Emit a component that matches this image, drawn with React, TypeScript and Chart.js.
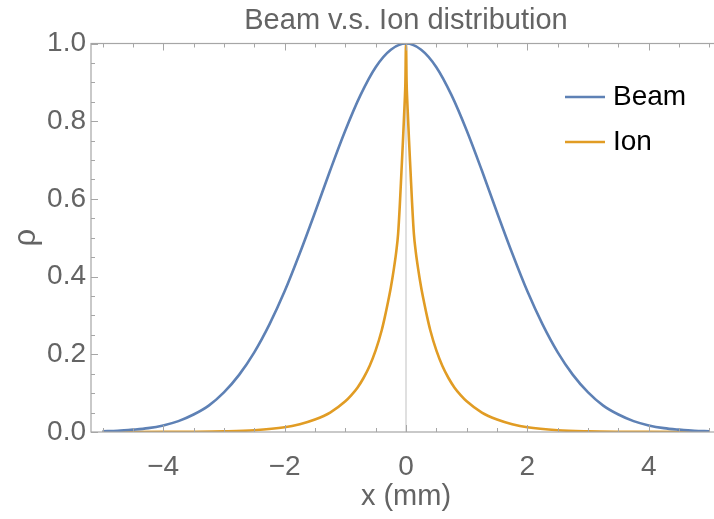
import React, { useEffect, useRef } from "react";
import { Chart, registerables } from "chart.js";

Chart.register(...registerables);

// ---- data ----
const beamX = [
  -5, -4.75, -4.5, -4.25, -4, -3.75, -3.5, -3.25, -3, -2.75, -2.5, -2.25, -2, -1.75, -1.5, -1.25, -1, -0.75, -0.5, -0.25,
  0, 0.25, 0.5, 0.75, 1, 1.25, 1.5, 1.75, 2, 2.25, 2.5, 2.75, 3, 3.25, 3.5, 3.75, 4, 4.25, 4.5, 4.75, 5,
];
const beamY = [
  0.002, 0.003, 0.006, 0.010, 0.017, 0.028, 0.045, 0.068, 0.102, 0.147, 0.205, 0.277, 0.362, 0.460, 0.565, 0.673, 0.776, 0.867, 0.939, 0.984,
  1.0, 0.984, 0.939, 0.867, 0.776, 0.673, 0.565, 0.460, 0.362, 0.277, 0.205, 0.147, 0.102, 0.068, 0.045, 0.028, 0.017, 0.010, 0.006, 0.003, 0.002,
];
const ionX = [
  -5, -4, -3.5, -3, -2.5, -2, -1.75, -1.5, -1.25, -1, -0.9, -0.8, -0.7, -0.6, -0.5, -0.4, -0.35, -0.3, -0.25, -0.2, -0.16, -0.13, -0.1, -0.075, -0.05, -0.03, -0.02, -0.01,
  0, 0.01, 0.02, 0.03, 0.05, 0.075, 0.1, 0.13, 0.16, 0.2, 0.25, 0.3, 0.35, 0.4, 0.5, 0.6, 0.7, 0.8, 0.9, 1, 1.25, 1.5, 1.75, 2, 2.5, 3, 3.5, 4, 5,
];
const ionY = [
  0.0, 0.0002, 0.0006, 0.0017, 0.0045, 0.012, 0.02, 0.032, 0.05, 0.079, 0.095, 0.114, 0.139, 0.17, 0.21, 0.262, 0.295, 0.332, 0.372, 0.42, 0.465, 0.51, 0.59, 0.67, 0.75, 0.82, 0.855, 0.9,
  1.0, 0.9, 0.855, 0.82, 0.75, 0.67, 0.59, 0.51, 0.465, 0.42, 0.372, 0.332, 0.295, 0.262, 0.21, 0.17, 0.139, 0.114, 0.095, 0.079, 0.05, 0.032, 0.02, 0.012, 0.0045, 0.0017, 0.0006, 0.0002, 0.0,
];
const seriesNames = ["Beam", "Ion"];
const xTickLabels = [-4, -2, 0, 2, 4];
const yTickLabels = [0, 0.2, 0.4, 0.6, 0.8, 1.0];
const titleText = "Beam v.s. Ion distribution";
const xTitle = "x (mm)";
const yTitle = "ρ";

const BLUE = "rgb(94,129,181)";
const ORANGE = "rgb(225,156,36)";
const GRAY_TEXT = "#646464";
const FRAME = "#a6a6a6";
const SANS = '"Liberation Sans", Arial, Helvetica, sans-serif';

const fmtX = (v: number) => (v < 0 ? "\u2212" + Math.abs(v) : String(v));

const framePlugin = {
  id: "mmaFrame",
  beforeDatasetsDraw(chart: any) {
    const { ctx, chartArea, scales } = chart;
    const x0 = scales.x.getPixelForValue(0);
    ctx.save();
    ctx.strokeStyle = "#cfcfcf";
    ctx.lineWidth = 1.3;
    ctx.beginPath();
    ctx.moveTo(x0, chartArea.top);
    ctx.lineTo(x0, chartArea.bottom);
    ctx.stroke();
    ctx.restore();
  },
  afterDatasetsDraw(chart: any) {
    const { ctx, chartArea, scales } = chart;
    const { left, right, top, bottom } = chartArea;
    ctx.save();
    ctx.strokeStyle = FRAME;
    ctx.lineWidth = 1.2;
    ctx.strokeRect(left, top, right - left, bottom - top);
    ctx.lineWidth = 1;
    for (let i = -10; i <= 10; i++) {
      const v = i / 2;
      const px = Math.round(scales.x.getPixelForValue(v)) + 0.5;
      const major = xTickLabels.includes(v);
      const len = major ? 7 : 4;
      ctx.beginPath();
      ctx.moveTo(px, bottom);
      ctx.lineTo(px, bottom - len);
      ctx.moveTo(px, top);
      ctx.lineTo(px, top + len);
      ctx.stroke();
    }
    for (let i = 0; i <= 20; i++) {
      const v = i / 20;
      const py = Math.round(scales.y.getPixelForValue(v)) + 0.5;
      const major = i % 4 === 0;
      const len = major ? 7 : 4;
      ctx.beginPath();
      ctx.moveTo(left, py);
      ctx.lineTo(left + len, py);
      ctx.moveTo(right, py);
      ctx.lineTo(right - len, py);
      ctx.stroke();
    }
    // title centred over the plot frame
    ctx.font = "29px " + SANS;
    ctx.fillStyle = GRAY_TEXT;
    ctx.textAlign = "center";
    ctx.textBaseline = "alphabetic";
    ctx.fillText(titleText, (left + right) / 2, 29);
    // legend
    const items = [
      { name: seriesNames[0], color: BLUE, y: 97 },
      { name: seriesNames[1], color: ORANGE, y: 142 },
    ];
    ctx.font = "28px " + SANS;
    ctx.textBaseline = "middle";
    ctx.textAlign = "left";
    for (const it of items) {
      ctx.strokeStyle = it.color;
      ctx.lineWidth = 2.6;
      ctx.beginPath();
      ctx.moveTo(565, it.y);
      ctx.lineTo(605, it.y);
      ctx.stroke();
      ctx.fillStyle = "#000";
      ctx.fillText(it.name, 613, it.y);
    }
    ctx.restore();
  },
};

export default function App() {
  const ref = useRef<HTMLCanvasElement>(null);
  useEffect(() => {
    if (!ref.current) return;
    const chart = new Chart(ref.current, {
      type: "line",
      data: {
        datasets: [
          {
            label: seriesNames[0],
            data: beamX.map((x, i) => ({ x, y: beamY[i] })),
            borderColor: BLUE,
            borderWidth: 2.6,
            pointRadius: 0,
            cubicInterpolationMode: "monotone",
          },
          {
            label: seriesNames[1],
            data: ionX.map((x, i) => ({ x, y: ionY[i] })),
            borderColor: ORANGE,
            borderWidth: 2.6,
            pointRadius: 0,
            cubicInterpolationMode: "monotone",
          },
        ],
      },
      options: {
        animation: false,
        responsive: false,
        devicePixelRatio: 1,
        layout: { padding: { left: 0, right: 9, top: 43.5, bottom: 0 } },
        plugins: {
          legend: { display: false },
          tooltip: { enabled: false },
          title: { display: false },
        },
        scales: {
          x: {
            type: "linear",
            min: -5.19,
            max: 5.19,
            grid: { display: false, drawTicks: false },
            border: { display: false },
            afterBuildTicks: (s: any) => {
              s.ticks = xTickLabels.map((v) => ({ value: v }));
            },
            afterFit: (s: any) => {
              s.height = 87;
            },
            ticks: {
              color: GRAY_TEXT,
              font: { family: SANS, size: 28 },
              padding: 18,
              maxRotation: 0,
              callback: (v: any) => fmtX(Number(v)),
            },
            title: {
              display: true,
              text: xTitle,
              color: GRAY_TEXT,
              font: { family: SANS, size: 29 },
              padding: { top: 0, bottom: 5 },
            },
          },
          y: {
            type: "linear",
            min: 0,
            max: 1,
            grid: { display: false, drawTicks: false },
            border: { display: false },
            afterBuildTicks: (s: any) => {
              s.ticks = yTickLabels.map((v) => ({ value: v }));
            },
            afterFit: (s: any) => {
              s.width = 91;
            },
            ticks: {
              color: GRAY_TEXT,
              font: { family: SANS, size: 28 },
              padding: 5,
              callback: (v: any) => Number(v).toFixed(1),
            },
            title: {
              display: true,
              text: yTitle,
              color: GRAY_TEXT,
              font: { family: SANS, size: 31 },
              padding: { top: 8, bottom: 0 },
            },
          },
        },
      },
      plugins: [framePlugin],
    } as any);
    return () => chart.destroy();
  }, []);
  return (
    <div style={{ position: "fixed", left: 0, top: 0, width: 714, height: 519, overflow: "hidden", background: "#fff" }}>
      <canvas ref={ref} width={730} height={519} style={{ display: "block", width: 730, height: 519 }} />
    </div>
  );
}
